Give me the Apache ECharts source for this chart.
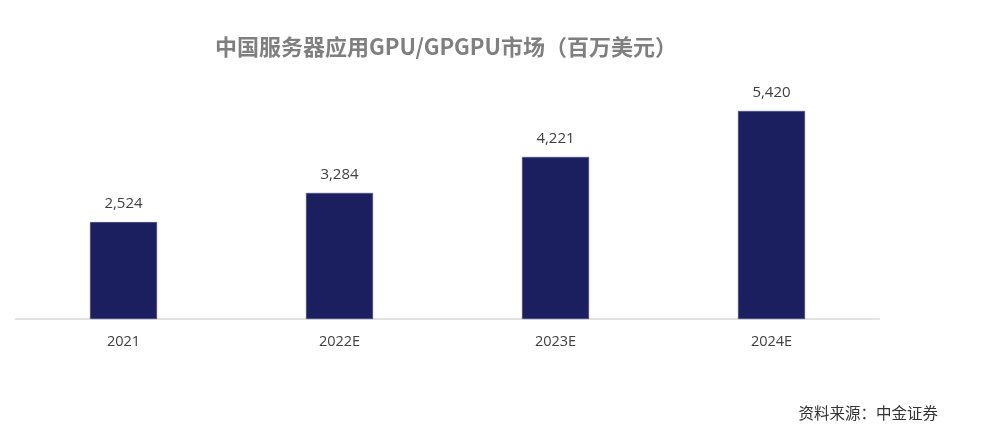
<!DOCTYPE html>
<html><head><meta charset="utf-8">
<script src="https://cdn.jsdelivr.net/npm/echarts@6/dist/echarts.min.js"></script>
<style>html,body{margin:0;padding:0;background:#fff}#c{width:985px;height:433px}</style>
</head><body><div id="c"></div>
<script>
const categories = ['2021', '2022E', '2023E', '2024E'];
const values = [2524, 3284, 4221, 5420];
const titleText = '中国服务器应用GPU/GPGPU市场（百万美元）';
const sourceText = '资料来源：中金证券';

const chart = echarts.init(document.getElementById('c'));
chart.setOption({
  animation: false,
  backgroundColor: '#fff',
  title: [{
    text: titleText,
    left: 441, top: 31, textAlign: 'center',
    textStyle: {fontFamily: 'Noto Sans CJK SC', fontWeight: 'bold', fontSize: 22, color: '#7f7f7f'}
  }, {
    text: sourceText,
    right: 42, top: 400,
    textStyle: {fontFamily: 'Noto Sans CJK SC', fontWeight: 'normal', fontSize: 15.5, color: '#333'}
  }],
  grid: {left: 15.5, right: 105.5, top: 88.7, bottom: 114, containLabel: false},
  xAxis: {
    type: 'category', data: categories,
    axisLine: {lineStyle: {color: '#d9d9d9', width: 1.5}},
    axisTick: {show: false},
    axisLabel: {margin: 15, fontFamily: 'Open Sans', fontSize: 14.5, color: '#404040'}
  },
  yAxis: {
    type: 'value', min: 0, max: 6000, show: false,
    splitLine: {show: false}
  },
  series: [{
    type: 'bar', data: values, barWidth: 67,
    itemStyle: {color: '#1c1f5f', borderColor: '#4a4d80', borderWidth: 0.5},
    label: {show: true, position: 'top', distance: 11, fontFamily: 'Open Sans', fontSize: 15, color: '#404040',
      formatter: p => p.value.toLocaleString('en-US')}
  }]
});
</script></body></html>
